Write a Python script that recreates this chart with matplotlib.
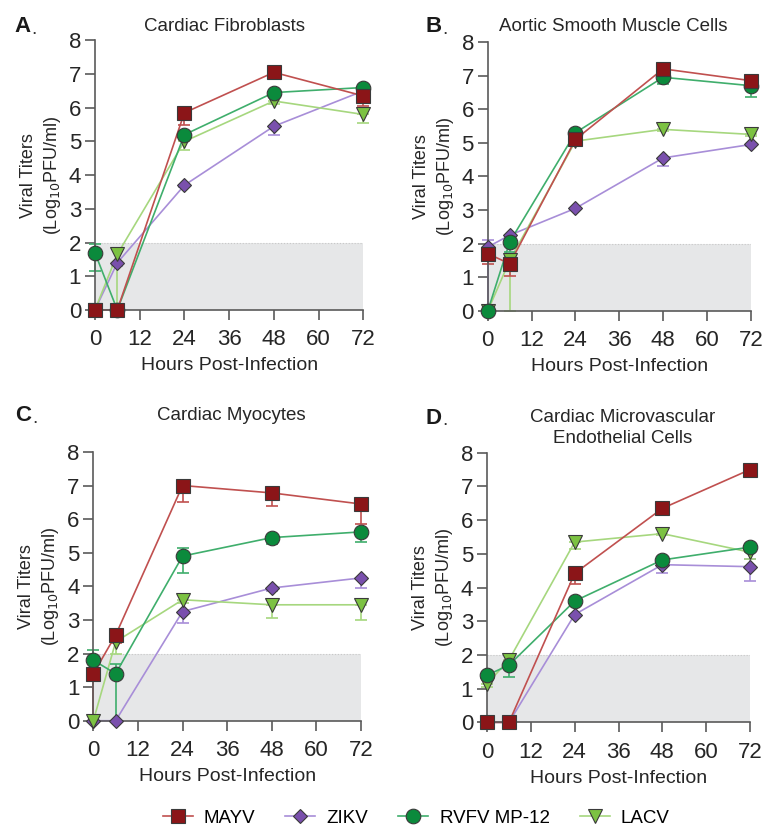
import numpy as np
import matplotlib
matplotlib.use("Agg")
import matplotlib.pyplot as plt
from matplotlib.lines import Line2D

plt.rcParams['font.family'] = ['Liberation Sans', 'DejaVu Sans']

# time points (hours post-infection)
hours = [0, 6, 24, 48, 72]
viruses = ["MAYV", "ZIKV", "RVFV MP-12", "LACV"]

# A. Cardiac Fibroblasts  (mean, lower err, upper err)
fib_mayv = [0, 0, 5.85, 7.05, 6.35]
fib_zikv = [0, 1.4, 3.7, 5.45, 6.5]
fib_rvfv = [1.7, 0, 5.2, 6.45, 6.6]
fib_lacv = [0, 1.65, 5.0, 6.2, 5.8]
fib_mayv_lo = [0, 0, 0.35, 0.1, 0.3]
fib_zikv_lo = [0, 0.1, 0.05, 0.25, 0.05]
fib_rvfv_lo = [0.55, 0, 0.1, 0.05, 0.05]
fib_lacv_lo = [0, 1.65, 0.25, 0.1, 0.25]
fib_mayv_hi = [0, 0, 0, 0, 0]
fib_zikv_hi = [0, 0, 0, 0, 0]
fib_rvfv_hi = [0.25, 0, 0, 0, 0]
fib_lacv_hi = [0, 0.2, 0, 0, 0]

# B. Aortic Smooth Muscle Cells
asm_mayv = [1.7, 1.4, 5.1, 7.2, 6.85]
asm_zikv = [1.9, 2.25, 3.05, 4.55, 4.95]
asm_rvfv = [0, 2.05, 5.3, 6.95, 6.7]
asm_lacv = [0, 1.5, 5.05, 5.4, 5.25]
asm_mayv_lo = [0.3, 0.35, 0.1, 0.05, 0.05]
asm_zikv_lo = [1.9, 0.05, 0.05, 0.25, 0.05]
asm_rvfv_lo = [0, 0.3, 0.05, 0.2, 0.35]
asm_lacv_lo = [0, 1.5, 0.1, 0.05, 0.05]
asm_mayv_hi = [0, 0, 0, 0, 0]
asm_zikv_hi = [0.2, 0, 0, 0, 0]
asm_rvfv_hi = [0, 0, 0, 0, 0]
asm_lacv_hi = [0, 0.2, 0, 0, 0]

# C. Cardiac Myocytes
myo_mayv = [1.4, 2.55, 7.0, 6.78, 6.45]
myo_zikv = [0, 0, 3.25, 3.95, 4.25]
myo_rvfv = [1.8, 1.4, 4.9, 5.45, 5.62]
myo_lacv = [0, 2.35, 3.6, 3.45, 3.45]
myo_mayv_lo = [1.4, 0.25, 0.5, 0.38, 0.6]
myo_zikv_lo = [0, 0, 0.35, 0.1, 0.3]
myo_rvfv_lo = [0.3, 1.4, 0.5, 0.2, 0.3]
myo_lacv_lo = [0, 0.35, 0.1, 0.4, 0.45]
myo_mayv_hi = [0, 0, 0, 0, 0]
myo_zikv_hi = [0, 0, 0, 0, 0]
myo_rvfv_hi = [0.3, 0.3, 0.25, 0, 0]
myo_lacv_hi = [0, 0, 0, 0, 0]

# D. Cardiac Microvascular Endothelial Cells
end_mayv = [0, 0, 4.42, 6.35, 7.5]
end_zikv = [0, 0, 3.2, 4.68, 4.62]
end_rvfv = [1.4, 1.7, 3.6, 4.82, 5.2]
end_lacv = [1.15, 1.85, 5.35, 5.6, 5.05]
end_mayv_lo = [0, 0, 0.32, 0.05, 0.2]
end_zikv_lo = [0, 0, 0.05, 0.25, 0.42]
end_rvfv_lo = [0.1, 0.35, 0.1, 0.1, 0.1]
end_lacv_lo = [0.1, 0.1, 0.2, 0.05, 0.2]
end_mayv_hi = [0, 0, 0, 0, 0]
end_zikv_hi = [0, 0, 0, 0, 0.23]
end_rvfv_hi = [0, 0, 0, 0, 0]
end_lacv_hi = [0, 0, 0, 0, 0]

panels = [
    ("A", "Cardiac Fibroblasts",
     [fib_mayv, fib_zikv, fib_rvfv, fib_lacv],
     [fib_mayv_lo, fib_zikv_lo, fib_rvfv_lo, fib_lacv_lo],
     [fib_mayv_hi, fib_zikv_hi, fib_rvfv_hi, fib_lacv_hi]),
    ("B", "Aortic Smooth Muscle Cells",
     [asm_mayv, asm_zikv, asm_rvfv, asm_lacv],
     [asm_mayv_lo, asm_zikv_lo, asm_rvfv_lo, asm_lacv_lo],
     [asm_mayv_hi, asm_zikv_hi, asm_rvfv_hi, asm_lacv_hi]),
    ("C", "Cardiac Myocytes",
     [myo_mayv, myo_zikv, myo_rvfv, myo_lacv],
     [myo_mayv_lo, myo_zikv_lo, myo_rvfv_lo, myo_lacv_lo],
     [myo_mayv_hi, myo_zikv_hi, myo_rvfv_hi, myo_lacv_hi]),
    ("D", "Cardiac Microvascular\nEndothelial Cells",
     [end_mayv, end_zikv, end_rvfv, end_lacv],
     [end_mayv_lo, end_zikv_lo, end_rvfv_lo, end_lacv_lo],
     [end_mayv_hi, end_zikv_hi, end_rvfv_hi, end_lacv_hi]),
]

# style per virus
face_cols = ["#8b1518", "#7a50ad", "#0b8a3c", "#7cc242"]
line_cols = ["#c0504f", "#a88ed8", "#3fae6c", "#a6d77e"]
markers = ["s", "D", "o", "v"]
msizes = [9.5, 7, 10.5, 9.5]
draw_order = [1, 3, 2, 0]  # MAYV drawn on top

fig = plt.figure(figsize=(7.78, 8.4), dpi=100)

# axes rectangles [left, bottom, width, height]
rects = [
    [0.122, 0.631, 0.345, 0.321],
    [0.627, 0.630, 0.338, 0.320],
    [0.120, 0.142, 0.344, 0.320],
    [0.626, 0.140, 0.338, 0.321],
]
label_pos = [(0.018, 0.968), (0.547, 0.968), (0.020, 0.505), (0.547, 0.502)]
title_pos = [(0.288, 0.968), (0.788, 0.968), (0.297, 0.505), (0.800, 0.490)]

for (letter, title, series, lo, hi), rect, lp, tp in zip(panels, rects, label_pos, title_pos):
    ax = fig.add_axes(rect)
    ax.fill_between([0, 72], 0, 2, color="#e6e7e8", lw=0, zorder=0)
    ax.plot([0, 72], [2, 2], color="#c8c8c8", lw=0.8, ls=":", zorder=0)
    for k, i in enumerate(draw_order):
        ax.errorbar(hours, series[i], yerr=[lo[i], hi[i]], color=line_cols[i],
                    elinewidth=1.2, capsize=4.5, capthick=1.2, zorder=2 + k * 0.1,
                    clip_on=False, fmt="none")
        ax.plot(hours, series[i], color=line_cols[i], lw=1.2, zorder=2 + k * 0.1,
                clip_on=False)
    for k, i in enumerate(draw_order):
        ax.plot(hours, series[i], ls="none", marker=markers[i], ms=msizes[i],
                mfc=face_cols[i], mec="#3a3a3a", mew=0.8, zorder=4 + k * 0.1,
                clip_on=False)
    ax.set_xlim(0, 72)
    ax.set_ylim(0, 8)
    ax.set_xticks([0, 12, 24, 36, 48, 60, 72])
    ax.set_yticks(range(0, 9))
    for s in ["top", "right"]:
        ax.spines[s].set_visible(False)
    for s in ["left", "bottom"]:
        ax.spines[s].set_color("#5a5a5a")
        ax.spines[s].set_linewidth(1.2)
    ax.tick_params(colors="#5a5a5a", labelcolor="#262626", labelsize=16,
                   width=1.2, length=7, pad=3)
    ax.tick_params(axis="x", pad=7)
    ax.set_xlabel("Hours Post-Infection", fontsize=14, color="#262626", labelpad=5)
    ax.set_ylabel("Viral Titers\n(Log$_{10}$PFU/ml)", fontsize=13, color="#262626",
                  labelpad=4, linespacing=1.35)
    fig.text(lp[0], lp[1], letter, fontsize=16, fontweight="bold", color="#1a1a1a",
             va="center", ha="left")
    fig.text(lp[0] + 0.022, lp[1] - 0.003, ".", fontsize=14, color="#333333",
             va="center", ha="left")
    fig.text(tp[0], tp[1], title, fontsize=13.5, color="#262626", ha="center",
             va="center", linespacing=1.3)

handles = [Line2D([], [], color=line_cols[i], lw=1.2, marker=markers[i],
                  ms=msizes[i], mfc=face_cols[i], mec="#3a3a3a", mew=0.8)
           for i in range(4)]
fig.legend(handles, viruses, loc="center", bbox_to_anchor=(0.535, 0.026), ncol=4,
           frameon=False, fontsize=13.5, handlelength=1.6, columnspacing=1.6,
           handletextpad=0.6)

fig.savefig("out.png", dpi=100)
